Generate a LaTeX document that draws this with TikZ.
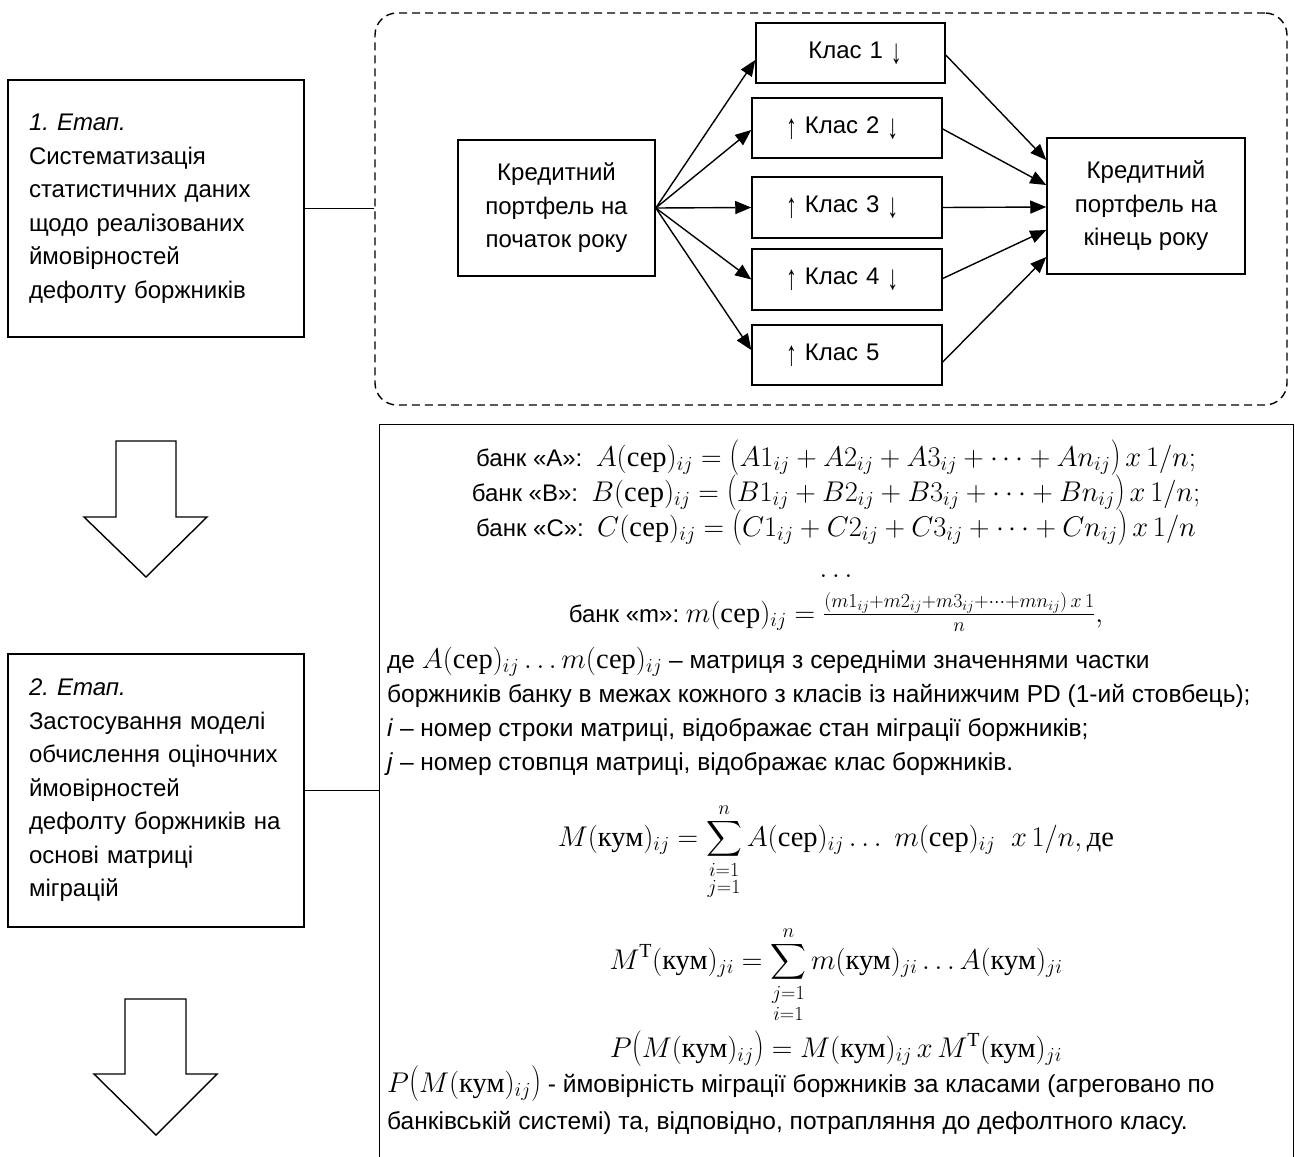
\RequirePackage{fix-cm}
\documentclass[tikz,border=0pt]{standalone}
\usepackage{amsmath}
\usepackage{fontspec}
\setmainfont{Liberation Sans}
\newfontfamily\cyrm{Liberation Serif}
\usetikzlibrary{arrows.meta}
\newcommand{\cyrt}[1]{\text{\cyrm #1}}
\newcommand{\mth}[1]{{\fontsize{28.5}{34}\selectfont$#1$}}
\newcommand{\uar}{\raisebox{-0.2em}{\scalebox{0.9}[1.45]{↑}}}
\newcommand{\dar}{\raisebox{-0.2em}{\scalebox{0.9}[1.45]{↓}}}
\newcommand{\lpar}{\mathopen{\scalebox{1}[1.25]{$($}}}
\newcommand{\rpar}{\mathclose{\scalebox{1}[1.25]{$)$}}}
\begin{document}
\begin{tikzpicture}[x=1pt,y=-1pt,
  every node/.style={font=\fontsize{24}{33.5}\selectfont\frenchspacing, inner sep=0pt},
  para/.style={anchor=base west, font=\fontsize{24.5}{33.5}\selectfont\frenchspacing},
  box/.style={draw, line width=1.5pt},
  clsbox/.style={box, minimum width=190, minimum height=60, text width=122, align=left},
  arr/.style={line width=1.4pt, -{Triangle[length=16pt,width=13pt]}},
  conn/.style={line width=1.2pt},
  bigarrow/.style={line width=1.4pt, line join=miter}]
\fill[white] (0,0) rectangle (1295,1156);
\useasboundingbox (0,0) rectangle (1295,1156);

% left column
\node[box, minimum width=296, minimum height=257, text width=254, align=left] (b1) at (156,208.5)
  {\textit{1. Етап.}\\Систематизація\\статистичних даних\\щодо реалізованих\\ймовірностей\\дефолту боржників};
\node[box, minimum width=296, minimum height=273, text width=254, align=left] (b2) at (156,790.5)
  {\textit{2. Етап.}\\Застосування моделі\\обчислення оціночних\\ймовірностей\\дефолту боржників на\\основі матриці\\міграцій};
\draw[bigarrow] (116,441) -- (176,441) -- (176,517) -- (207,517) -- (146,577) -- (84,517) -- (116,517) -- cycle;
\draw[bigarrow] (125,999) -- (186,999) -- (186,1074) -- (217,1074) -- (156,1135) -- (94,1074) -- (125,1074) -- cycle;

% dashed group
\node[draw, line width=1.4pt, dash pattern=on 8pt off 5pt, rounded corners=22, minimum width=912, minimum height=392] (grp) at (831,209) {};
\node[box, minimum width=197, minimum height=136, align=center] (st) at (556.5,208) {Кредитний\\портфель на\\початок року};
\node[box, minimum width=198, minimum height=136, align=center] (en) at (1146,206) {Кредитний\\портфель на\\кінець року};
\node[clsbox, minimum width=189] (c1) at (850.5,53) {\phantom{\uar\ }Клас 1 \dar};
\node[clsbox] (c2) at (847,128) {\uar\ Клас 2 \dar};
\node[clsbox, minimum height=61] (c3) at (847,207.5) {\uar\ Клас 3 \dar};
\node[clsbox, minimum height=61] (c4) at (847,279.5) {\uar\ Клас 4 \dar};
\node[clsbox] (c5) at (847,355) {\uar\ Клас 5};

\draw[arr] (st.east) -- ([yshift=-7pt]c1.west);
\draw[arr] (st.east) -- ([yshift=-2pt]c2.west);
\draw[arr] (st.east) -- (c3.west);
\draw[arr] (st.east) -- (c4.west);
\draw[arr] (st.east) -- ([yshift=5pt]c5.west);
\draw[arr] ([yshift=-2pt]c1.east) -- ([yshift=46pt]en.west);
\draw[arr] ([yshift=-1pt]c2.east) -- ([yshift=21pt]en.west);
\draw[arr] (c3.east) -- ([yshift=-1pt]en.west);
\draw[arr] ([yshift=1pt]c4.east) -- ([yshift=-24pt]en.west);
\draw[arr] ([yshift=-7pt]c5.east) -- ([yshift=-51pt]en.west);

% big text box
\node[draw, line width=1.3pt, minimum width=914, minimum height=780, anchor=north west] (big) at (379,424) {};
\draw[conn] (b1.east) -- (b1.east -| grp.west);
\draw[conn] (b2.east) -- (b2.east -| big.west);

\node[anchor=base] (la) at (836,466) {банк «А»:\ \ \mth{A(\cyrt{сер})_{ij} = \lpar A1_{ij} + A2_{ij} + A3_{ij} + \cdots + An_{ij}\rpar\,x\,1/n;}};
\node[anchor=base] (lb) at (836,501) {банк «В»:\ \ \mth{B(\cyrt{сер})_{ij} = \lpar B1_{ij} + B2_{ij} + B3_{ij} + \cdots + Bn_{ij}\rpar\,x\,1/n;}};
\node[anchor=base] (lc) at (836,536) {банк «С»:\ \ \mth{C(\cyrt{сер})_{ij} = \lpar C1_{ij} + C2_{ij} + C3_{ij} + \cdots + Cn_{ij}\rpar\,x\,1/n}};
\node[anchor=base] (ld) at (836,577) {\mth{\ldots}};
\node[anchor=base] (lm) at (836,622) {банк «m»: \mth{m(\cyrt{сер})_{ij} = \frac{(m1_{ij}+m2_{ij}+m3_{ij}+\cdots+mn_{ij})\,x\,1}{n},}};
\node[para] (t1) at (387,668) {де \mth{A(\cyrt{сер})_{ij}\ldots m(\cyrt{сер})_{ij}} – матриця з середніми значеннями частки};
\node[para] (t2) at (387,702) {боржників банку в межах кожного з класів із найнижчим PD (1-ий стовбець);};
\node[para] (t3) at (387,736) {\textit{i} – номер строки матриці, відображає стан міграції боржників;};
\node[para] (t4) at (387,770) {\textit{j} – номер стовпця матриці, відображає клас боржників.};
\node[anchor=base] (e1) at (836,846) {\mth{\displaystyle M(\cyrt{кум})_{ij} = \sum_{\begin{subarray}{c} i=1\\[2pt] j=1\end{subarray}}^{n} A(\cyrt{сер})_{ij}\ldots\ m(\cyrt{сер})_{ij}\ \ x\,1/n,\cyrt{де}}};
\node[anchor=base] (e2) at (836,969) {\mth{\displaystyle M^{\cyrt{T}}(\cyrt{кум})_{ji} = \sum_{\begin{subarray}{c} j=1\\[2pt] i=1\end{subarray}}^{n} m(\cyrt{кум})_{ji}\ldots A(\cyrt{кум})_{ji}}};
\node[anchor=base] (e3) at (836,1057) {\mth{P\lpar M(\cyrt{кум})_{ij}\rpar = M(\cyrt{кум})_{ij}\,x\,M^{\cyrt{T}}(\cyrt{кум})_{ji}}};
\node[para] (t5) at (387,1092) {\mth{P\lpar M(\cyrt{кум})_{ij}\rpar} - ймовірність міграції боржників за класами (агреговано по};
\node[para] (t6) at (387,1129) {банківській системі) та, відповідно, потрапляння до дефолтного класу.};
\end{tikzpicture}
\end{document}
